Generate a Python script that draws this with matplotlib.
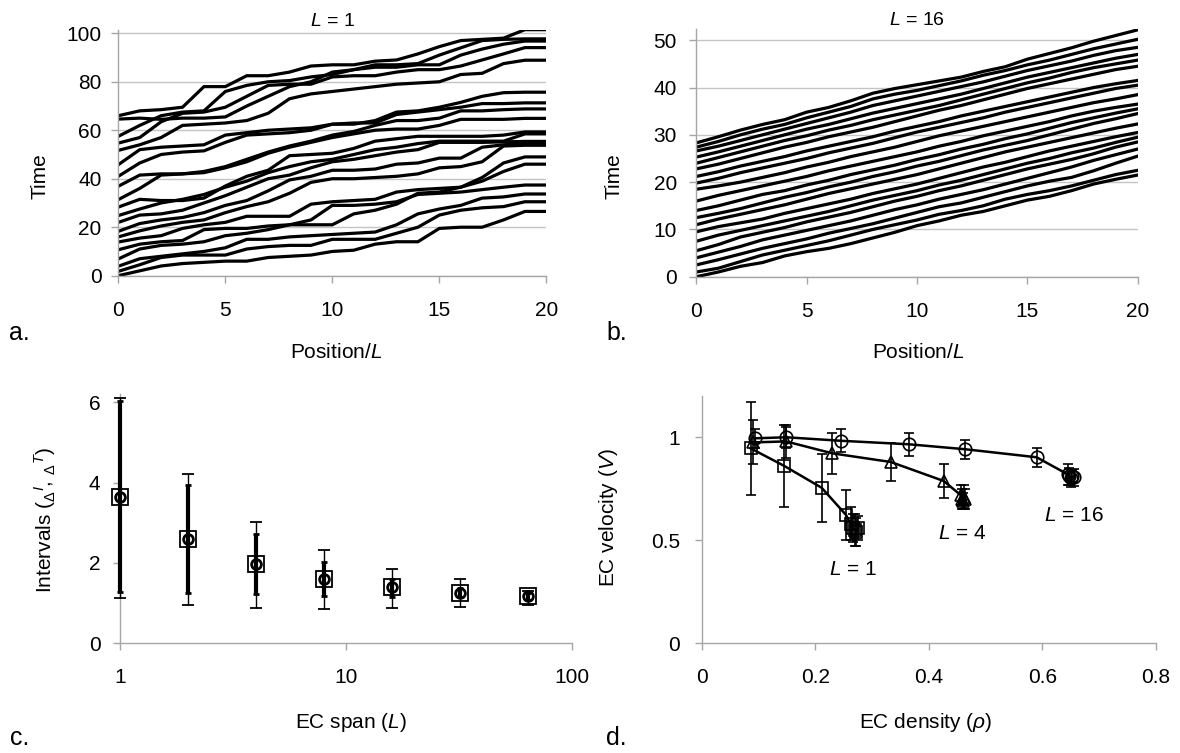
import numpy as np
import matplotlib
from matplotlib import pyplot as plt
from matplotlib.ticker import NullLocator

# ---- data -------------------------------------------------------------
pos = list(range(21))

# panel a: EC trajectories, L = 1 (time at each position)
traj_L1 = [
  [0, 2, 4, 5, 5.5, 6, 6, 7.5, 8, 8.5, 10, 10.5, 13, 14, 14, 19.5, 20, 20, 23, 26.5, 26.5],
  [1.8, 4.5, 7.5, 8.5, 8.5, 8.5, 11, 12, 12.5, 12.5, 15, 15, 15, 17.5, 20, 25, 27, 28, 28.5, 30.5, 30.5],
  [3.9, 7, 8, 9, 10, 11.5, 15, 15, 16, 16.5, 17, 17.5, 18, 21, 25.5, 27.5, 29, 32, 32.5, 33.7, 33.7],
  [6.9, 11, 12.5, 13, 14, 16.5, 17.5, 19, 21, 23, 29, 29, 29.5, 30.5, 33.5, 34, 34.5, 35.5, 36.5, 37.4, 37.4],
  [10.7, 13, 14, 14.5, 19, 19.5, 19.5, 20.5, 21, 21, 21, 25.5, 27, 29.5, 34, 34.5, 36.5, 39, 43, 46, 46],
  [13.9, 15.5, 16.5, 19.5, 21, 22, 24.5, 24.5, 24.5, 29.5, 30.5, 31, 31.5, 34.5, 35.5, 36, 36.5, 40.5, 46.5, 49, 49],
  [16, 18.5, 20.5, 22, 23, 26, 28.5, 30.5, 34, 38.5, 40, 40, 40.5, 41, 42, 44.5, 45, 47, 53.5, 53.8, 53.8],
  [18.3, 21.5, 23, 24, 26, 29, 31, 35, 39.5, 41, 43.5, 43.5, 44, 46, 46.5, 48.5, 48.5, 53, 54, 54.5, 54.5],
  [22, 25, 25.5, 27, 30, 33, 36.5, 40, 41.5, 44.5, 47, 48, 49.5, 51, 52, 55, 55, 55, 55.2, 55.4, 55.4],
  [24.8, 27.5, 30, 31.5, 33.5, 36.5, 39, 42.5, 45, 47, 48, 50, 52, 53, 54.5, 55.5, 55.5, 55.5, 55.5, 58.5, 58.5],
  [28.3, 31.5, 31, 31, 32, 37, 41, 43.5, 49.5, 50, 50.5, 52.5, 55.5, 56.5, 57.5, 57.5, 57.5, 57.5, 58, 59.3, 59.3],
  [31.4, 36, 41.5, 42, 42.5, 44.5, 47, 50.5, 53, 55, 57, 58.5, 60, 60.5, 60.5, 62, 64.5, 64.5, 64.5, 64.9, 64.9],
  [36.9, 41.5, 42, 42, 43, 45, 48, 51, 53.5, 55.5, 58, 59.5, 62, 64, 64, 65, 68, 68, 68.5, 68.8, 68.8],
  [41, 46.5, 50, 51, 51.5, 55, 58, 58.5, 59, 60, 62.5, 63, 63, 66.5, 67.5, 68.5, 69.5, 71, 71, 71.3, 71.3],
  [45.8, 52, 53, 53.5, 54, 58, 59, 60, 60.5, 61, 62.5, 62.5, 64, 67.5, 68, 69.5, 71.5, 74, 75.5, 75.7, 75.7],
  [51.7, 54, 57, 62, 62.5, 63, 64, 67, 73, 75, 76, 77, 78, 79, 79.5, 80, 83, 83.5, 87.5, 88.9, 88.9],
  [54.7, 57, 63.5, 67, 67.5, 69.5, 74, 78.5, 79, 79, 82, 82.5, 82.5, 84, 85, 85, 86.5, 89, 91.5, 94.1, 94.1],
  [57.5, 62, 66, 67.5, 68, 76, 78.5, 80, 80.5, 82, 83, 85, 86, 86, 87, 87, 91, 93.5, 95.5, 96.8, 96.8],
  [64.6, 65, 64.5, 65, 65, 65.5, 70, 74, 78, 80, 84, 85, 87, 87, 87.5, 91, 94, 97, 97.5, 97.7, 97.7],
  [66, 68, 68.5, 69.5, 78, 78, 82.5, 82.5, 84, 86.5, 87, 87, 88.5, 89, 91.5, 94.5, 97, 97.5, 98, 101.5, 101.5],
]

# panel b: EC trajectories, L = 16
traj_L16 = [
  [0, 1.0, 2.2, 3.0, 4.4, 5.3, 6.0, 7.0, 8.2, 9.4, 10.8, 11.8, 13.0, 13.8, 15.0, 16.2, 17.0, 18.2, 19.6, 20.6, 21.5],
  [1.0, 1.8, 3.2, 4.6, 5.6, 6.6, 7.6, 8.8, 10.0, 11.0, 12.0, 13.2, 14.0, 15.0, 16.4, 17.4, 18.2, 19.2, 20.4, 21.6, 22.5],
  [2.5, 3.6, 4.8, 6.0, 7.0, 8.0, 9.2, 10.2, 11.2, 12.4, 13.6, 14.8, 15.6, 16.8, 18.0, 19.2, 20.2, 21.0, 22.4, 24.0, 25.5],
  [4.0, 5.2, 6.4, 7.8, 8.8, 9.8, 10.8, 11.8, 13.0, 14.2, 15.2, 16.4, 17.4, 18.4, 19.6, 20.8, 22.0, 23.2, 24.6, 25.8, 27.0],
  [5.5, 6.8, 8.4, 9.4, 10.4, 11.6, 12.6, 13.6, 14.8, 16.0, 17.0, 18.2, 19.2, 20.4, 21.6, 22.8, 23.8, 24.8, 26.0, 27.4, 28.5],
  [7.5, 8.8, 9.8, 10.8, 11.8, 12.8, 13.8, 15.0, 16.2, 17.2, 18.2, 19.4, 20.4, 21.6, 22.8, 24.0, 25.0, 26.2, 27.2, 28.4, 29.5],
  [9.5, 10.6, 11.4, 12.2, 13.4, 14.4, 15.4, 16.4, 17.6, 18.6, 19.6, 20.8, 22.0, 23.2, 24.2, 25.4, 26.6, 27.6, 28.6, 29.6, 30.5],
  [11.0, 12.2, 13.2, 14.2, 15.2, 16.4, 17.6, 18.6, 19.6, 20.6, 21.6, 22.8, 24.0, 25.2, 26.4, 27.4, 28.4, 29.4, 30.4, 31.4, 32.3],
  [12.5, 13.4, 14.4, 15.6, 16.8, 17.8, 19.0, 20.0, 21.2, 22.2, 23.4, 24.4, 25.6, 26.8, 27.8, 28.8, 30.0, 31.2, 32.4, 33.4, 34.5],
  [14.0, 15.0, 16.2, 17.4, 18.2, 19.4, 20.4, 21.6, 22.6, 23.6, 24.8, 25.8, 27.0, 28.0, 29.2, 30.2, 31.4, 32.6, 33.6, 34.6, 35.5],
  [16.0, 17.2, 18.2, 19.2, 20.2, 21.2, 22.4, 23.4, 24.4, 25.4, 26.4, 27.6, 28.6, 29.8, 30.8, 31.8, 32.8, 34.0, 35.0, 35.8, 36.5],
  [18.5, 19.2, 20.0, 21.0, 22.0, 23.2, 24.2, 25.4, 26.4, 27.4, 28.6, 29.8, 30.8, 31.8, 32.8, 33.8, 34.8, 35.8, 36.8, 37.6, 38.5],
  [19.8, 20.8, 22.0, 23.0, 24.0, 25.0, 26.2, 27.2, 28.2, 29.4, 30.6, 31.6, 32.6, 33.6, 34.8, 35.8, 36.8, 37.8, 38.8, 39.8, 40.5],
  [21.2, 22.2, 23.4, 24.4, 25.4, 26.6, 27.6, 28.6, 29.6, 30.8, 31.8, 32.8, 34.0, 35.0, 36.0, 37.0, 38.0, 39.0, 40.0, 40.8, 41.5],
  [22.8, 23.8, 25.0, 26.2, 27.4, 28.4, 29.6, 30.6, 31.6, 32.8, 34.0, 35.2, 36.2, 37.4, 38.6, 39.8, 40.8, 41.8, 42.8, 43.8, 44.5],
  [24.0, 25.2, 26.4, 27.6, 28.8, 29.8, 31.0, 32.0, 33.2, 34.2, 35.2, 36.2, 37.4, 38.6, 39.8, 41.0, 42.0, 43.2, 44.2, 45.0, 45.8],
  [25.3, 26.4, 27.6, 28.8, 30.0, 31.2, 32.2, 33.4, 34.6, 35.6, 36.6, 37.6, 38.6, 39.8, 41.0, 42.2, 43.2, 44.2, 45.2, 46.2, 47.0],
  [26.6, 27.6, 28.8, 30.0, 31.2, 32.4, 33.6, 34.8, 36.2, 37.2, 38.2, 39.2, 40.2, 41.2, 42.4, 43.6, 44.6, 45.6, 46.8, 47.8, 48.5],
  [27.4, 28.6, 30.0, 31.2, 32.2, 33.6, 34.8, 36.0, 37.6, 38.6, 39.4, 40.4, 41.4, 42.6, 43.6, 44.8, 45.8, 47.0, 48.2, 49.2, 50.2],
  [28.3, 29.6, 31.0, 32.2, 33.2, 34.8, 35.8, 37.2, 38.8, 39.8, 40.6, 41.4, 42.2, 43.4, 44.4, 46.0, 47.2, 48.4, 49.8, 51.0, 52.2],
]

# panel c: intervals vs EC span
span = [1, 2, 4, 8, 16, 32, 64]
dI_mean = [3.65, 2.59, 1.97, 1.61, 1.39, 1.26, 1.18]
dI_lo = [1.12, 0.95, 0.87, 0.86, 0.87, 0.90, 0.95]
dI_hi = [6.10, 4.22, 3.01, 2.32, 1.86, 1.59, 1.31]
dT_mean = [3.65, 2.59, 1.97, 1.61, 1.39, 1.26, 1.18]
dT_lo = [1.28, 1.24, 1.22, 1.18, 1.15, 1.15, 1.08]
dT_hi = [6.03, 3.93, 2.71, 2.02, 1.60, 1.37, 1.26]

# panel d: velocity vs density
rho_L1 = [0.086, 0.145, 0.211, 0.254, 0.262, 0.266, 0.270, 0.272, 0.275]
vel_L1 = [0.946, 0.861, 0.755, 0.623, 0.58, 0.56, 0.55, 0.54, 0.56]
err_L1 = [0.225, 0.20, 0.165, 0.12, 0.08, 0.07, 0.08, 0.07, 0.06]
rho_L4 = [0.090, 0.148, 0.230, 0.333, 0.426, 0.456, 0.458, 0.460, 0.462, 0.464]
vel_L4 = [0.975, 0.98, 0.922, 0.88, 0.788, 0.72, 0.70, 0.69, 0.71, 0.70]
err_L4 = [0.107, 0.08, 0.10, 0.09, 0.083, 0.05, 0.05, 0.04, 0.06, 0.05]
rho_L16 = [0.093, 0.149, 0.245, 0.365, 0.464, 0.590, 0.645, 0.648, 0.650, 0.653, 0.656]
vel_L16 = [0.995, 1.0, 0.983, 0.966, 0.942, 0.903, 0.82, 0.81, 0.80, 0.81, 0.805]
err_L16 = [0.045, 0.05, 0.055, 0.057, 0.047, 0.046, 0.05, 0.04, 0.04, 0.03, 0.04]

GRAY = '#a6a6a6'
FS = 15


def style_axes(ax, ypad, grid=False):
  for s in ['top', 'right']:
    ax.spines[s].set_visible(False)
  for s in ['left', 'bottom']:
    ax.spines[s].set_color(GRAY)
    ax.spines[s].set_linewidth(1.0)
  ax.tick_params(direction='out', length=5, width=1, color=GRAY, labelsize=FS)
  ax.tick_params(axis='x', pad=13)
  ax.tick_params(axis='y', pad=ypad)
  if grid:
    ax.yaxis.grid(True, color='#c4c4c4', linewidth=1)
    ax.set_axisbelow(True)


def fig_text(fig, x, y, s, **kw):
  # x, y in pixels, y measured from the top
  fig.text(x / 1180.0, 1 - y / 753.0, s, **kw)


def main():
  plt.rcParams['font.family'] = ['Liberation Sans', 'DejaVu Sans']
  plt.rcParams['mathtext.fontset'] = 'custom'
  plt.rcParams['mathtext.rm'] = 'Liberation Sans'
  plt.rcParams['mathtext.it'] = 'Liberation Sans:italic'

  fig = plt.figure(figsize=(11.8, 7.53), dpi=100)

  # ---- a ----
  ax = fig.add_axes([0.1003, 0.6339, 0.3627, 0.3267])
  for t in traj_L1:
    ax.plot(pos, t, color='black', lw=2.3, solid_joinstyle='miter')
  ax.set_xlim(0, 20)
  ax.set_ylim(0, 101.5)
  ax.set_xticks([0, 5, 10, 15, 20])
  ax.set_yticks([0, 20, 40, 60, 80, 100])
  style_axes(ax, 7, grid=True)
  ax.set_title(r'$\mathit{L}$ = 1', fontsize=14, pad=3)

  # ---- b ----
  ax = fig.add_axes([0.5901, 0.6325, 0.3741, 0.3285])
  for t in traj_L16:
    ax.plot(pos, t, color='black', lw=2.3)
  ax.set_xlim(0, 20)
  ax.set_ylim(0, 52.3)
  ax.set_xticks([0, 5, 10, 15, 20])
  ax.set_yticks([0, 10, 20, 30, 40, 50])
  style_axes(ax, 9, grid=True)
  ax.set_title(r'$\mathit{L}$ = 16', fontsize=14, pad=3)

  # ---- c ----
  ax = fig.add_axes([0.1017, 0.1457, 0.3831, 0.3307])
  m = np.array(dI_mean)
  c1 = ax.errorbar(span, dI_mean, yerr=[m - np.array(dI_lo), np.array(dI_hi) - m],
                   fmt='s', ms=11, mfc='none', mec='black', mew=1.3,
                   ecolor='black', elinewidth=1, capsize=4, capthick=1, zorder=3)
  m = np.array(dT_mean)
  c2 = ax.errorbar(span, dT_mean, yerr=[m - np.array(dT_lo), np.array(dT_hi) - m],
                   fmt='o', ms=7, mfc='none', mec='black', mew=2,
                   ecolor='black', elinewidth=3, capsize=2.5, capthick=3, zorder=4)
  for cont in (c1, c2):
    for art in cont.get_children():
      art.set_clip_on(False)
  ax.set_xscale('log')
  ax.set_xlim(1, 100)
  ax.set_ylim(0, 6.2)
  ax.set_xticks([1, 10, 100])
  ax.set_xticklabels(['1', '10', '100'])
  ax.xaxis.set_minor_locator(NullLocator())
  ax.set_yticks([0, 2, 4, 6])
  style_axes(ax, 9)

  # ---- d ----
  ax = fig.add_axes([0.5949, 0.1457, 0.3845, 0.3283])
  for x, y, e, mk in [(rho_L16, vel_L16, err_L16, 'o'),
                      (rho_L4, vel_L4, err_L4, '^'),
                      (rho_L1, vel_L1, err_L1, 's')]:
    ax.errorbar(x, y, yerr=e, fmt='-', marker=mk, ms=9, mfc='none', mec='black',
                mew=1.2, color='black', lw=1.8, ecolor='black', elinewidth=1.2,
                capsize=3.5, capthick=1.2)
  ax.set_xlim(0, 0.8)
  ax.set_ylim(0, 1.2)
  ax.set_xticks([0, 0.2, 0.4, 0.6, 0.8])
  ax.set_xticklabels(['0', '0.2', '0.4', '0.6', '0.8'])
  ax.set_yticks([0, 0.5, 1])
  ax.set_yticklabels(['0', '0.5', '1'])
  style_axes(ax, 11)
  ax.text(0.266, 0.356, r'$\mathit{L}$ = 1', fontsize=FS, ha='center', va='center')
  ax.text(0.458, 0.531, r'$\mathit{L}$ = 4', fontsize=FS, ha='center', va='center')
  ax.text(0.655, 0.618, r'$\mathit{L}$ = 16', fontsize=FS, ha='center', va='center')

  # ---- labels ----
  fig_text(fig, 336, 353, r'Position/$\mathit{L}$', fontsize=FS, ha='center', va='center')
  fig_text(fig, 918, 352, r'Position/$\mathit{L}$', fontsize=FS, ha='center', va='center')
  fig_text(fig, 40, 176, 'Time', fontsize=FS, ha='center', va='center', rotation=90)
  fig_text(fig, 614, 176, 'Time', fontsize=FS, ha='center', va='center', rotation=90)
  fig_text(fig, 351, 723, r'EC span ($\mathit{L}$)', fontsize=FS, ha='center', va='center')
  fig_text(fig, 926, 723, r'EC density ($\rho$)', fontsize=FS, ha='center', va='center')
  fig_text(fig, 45, 520, r'Intervals (${}_{\Delta}{}^{I}$, ${}_{\Delta}{}^{T}$)', fontsize=FS,
           ha='center', va='center', rotation=90)
  fig_text(fig, 609, 518, r'EC velocity ($\mathit{V}$)', fontsize=FS, ha='center', va='center',
           rotation=90)

  for s, x, y in [('a.', 9, 333), ('b.', 606, 333), ('c.', 10, 738), ('d.', 606, 738)]:
    fig_text(fig, x, y, s, fontsize=18, ha='left', va='center')

  fig.savefig('out.png', dpi=100)


if __name__ == '__main__':
  main()
